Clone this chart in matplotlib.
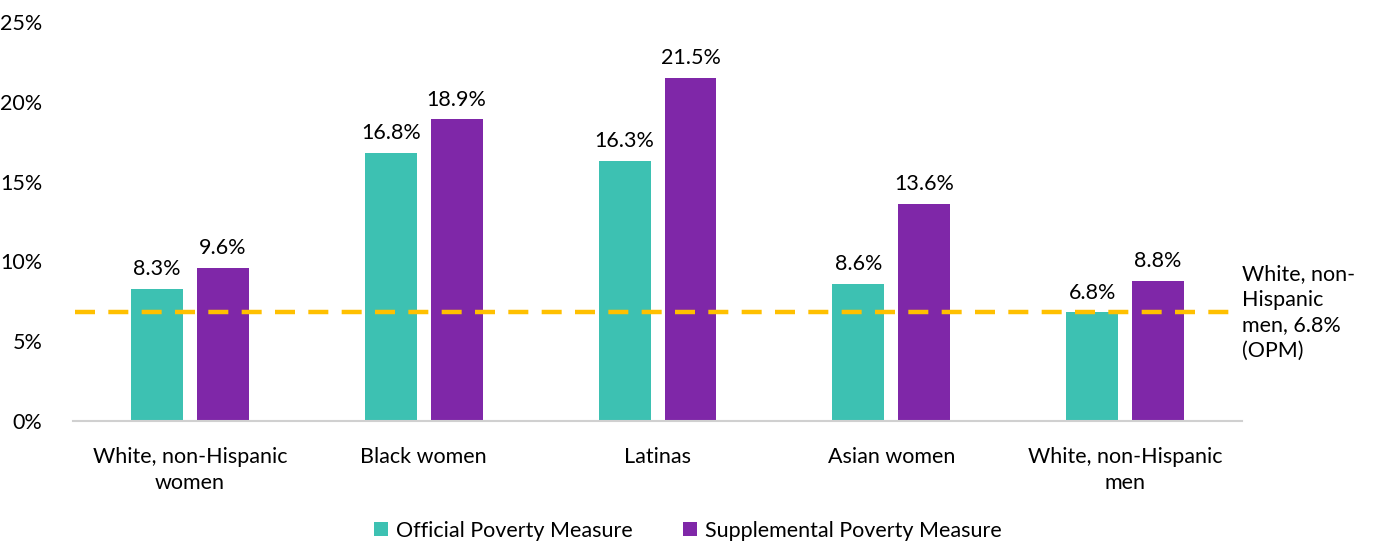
import matplotlib.pyplot as plt
import numpy as np

plt.rcParams["font.family"] = ["Lato", "DejaVu Sans"]

categories = ["White, non-Hispanic\nwomen", "Black women", "Latinas", "Asian women", "White, non-Hispanic\nmen"]
opm = [8.3, 16.8, 16.3, 8.6, 6.8]
spm = [9.6, 18.9, 21.5, 13.6, 8.8]
ref_value = 6.8
ref_label = "White, non-\nHispanic\nmen, 6.8%\n(OPM)"

teal = "#3DC1B2"
purple = "#7F27A8"
gold = "#FFC000"
fs = 15.5

fig = plt.figure(figsize=(13.76, 5.41), dpi=100)
ax = fig.add_axes([0.053, 0.222, 0.8497, 0.737])

x = np.arange(len(categories))
w = 0.222
off = 0.141
b1 = ax.bar(x - off, opm, w, color=teal, label="Official Poverty Measure")
b2 = ax.bar(x + off, spm, w, color=purple, label="Supplemental Poverty Measure")

for bars, vals in [(b1, opm), (b2, spm)]:
    for r, v in zip(bars, vals):
        ax.annotate(f"{v}%", (r.get_x() + r.get_width() / 2, v), xytext=(0, 7),
                    textcoords="offset points", ha="center", va="bottom", fontsize=fs)

# reference line
ax.plot([-0.49, 4.45], [ref_value, ref_value], color=gold, lw=3.2, ls=(0, (4.5, 3)))
ax.text(4.5, ref_value, ref_label, ha="left", va="center", fontsize=fs,
        linespacing=1.35, clip_on=False)

ax.set_xlim(-0.5, 4.5)
ax.set_ylim(0, 25)
ax.set_yticks([0, 5, 10, 15, 20, 25])
ax.set_yticklabels([f"{t}%" for t in [0, 5, 10, 15, 20, 25]])
ax.set_xticks(x)
ax.set_xticklabels(categories, linespacing=1.35)
ax.tick_params(axis="both", length=0, labelsize=fs)
ax.tick_params(axis="y", pad=22)
ax.tick_params(axis="x", pad=19)
for s in ["top", "right", "left"]:
    ax.spines[s].set_visible(False)
ax.spines["bottom"].set_color("#D0D0D0")
ax.spines["bottom"].set_linewidth(1.5)

fig.legend(handles=[b1, b2], loc="lower center", bbox_to_anchor=(0.5, -0.035), ncol=2,
           frameon=False, fontsize=fs, handlelength=0.65, handleheight=0.65,
           columnspacing=2.3, handletextpad=0.4)

fig.savefig("out.png", dpi=100)
